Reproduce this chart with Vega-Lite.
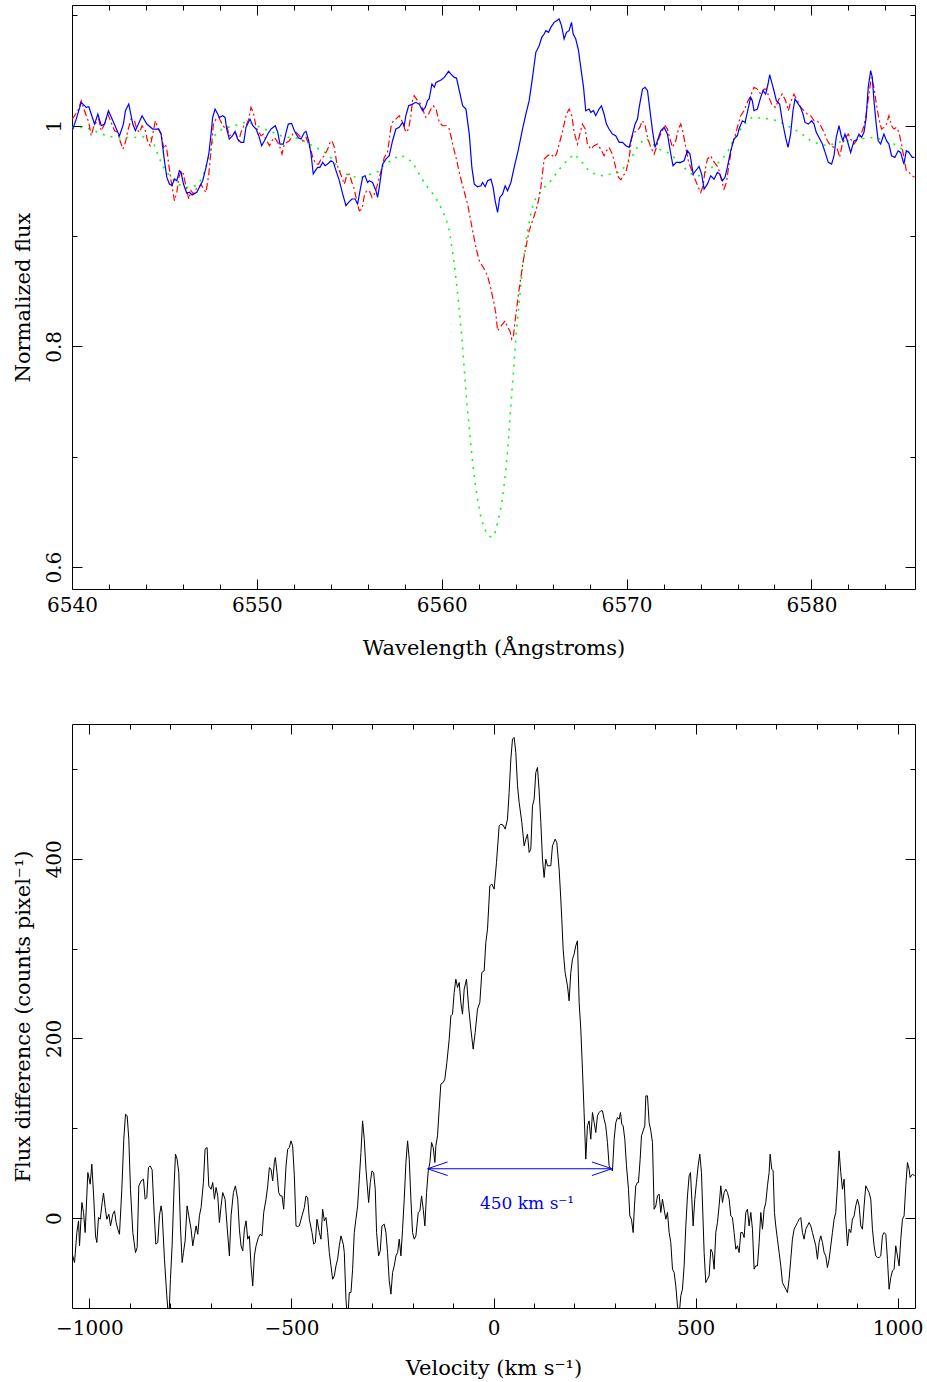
{
"$schema":"https://vega.github.io/schema/vega-lite/v6.json",
"padding":{"left":11,"top":4,"right":0,"bottom":3},
"spacing":64,
"config":{"view":{"stroke":"#000000","strokeWidth":1},"font":"DejaVu Serif","axis":{"domain":false,"grid":false,"tickColor":"#000000","tickWidth":1,"labelColor":"#000000","titleColor":"#000000","labelFont":"DejaVu Serif","titleFont":"DejaVu Serif","labelFontSize":20,"titleFontSize":21,"titleFontWeight":"normal","labelFlush":false,"labelOverlap":false}},
"datasets":{
"blue":[{"wl":6540.01,"flux":0.9955},{"wl":6540.23,"flux":1.006},{"wl":6540.5,"flux":1.0211},{"wl":6540.77,"flux":1.0166},{"wl":6540.91,"flux":1.0172},{"wl":6541.04,"flux":1.0106},{"wl":6541.22,"flux":1.0015},{"wl":6541.4,"flux":1.0106},{"wl":6541.58,"flux":1.0},{"wl":6541.76,"flux":1.0015},{"wl":6541.97,"flux":1.0136},{"wl":6542.21,"flux":1.0045},{"wl":6542.48,"flux":0.994},{"wl":6542.57,"flux":0.991},{"wl":6542.78,"flux":1.0015},{"wl":6542.89,"flux":1.0136},{"wl":6543.07,"flux":1.0196},{"wl":6543.29,"flux":1.0015},{"wl":6543.43,"flux":0.9955},{"wl":6543.79,"flux":1.009},{"wl":6544.05,"flux":1.0015},{"wl":6544.37,"flux":0.997},{"wl":6544.69,"flux":0.997},{"wl":6544.82,"flux":0.9925},{"wl":6544.91,"flux":0.9804},{"wl":6545.0,"flux":0.9683},{"wl":6545.13,"flux":0.9532},{"wl":6545.27,"flux":0.9472},{"wl":6545.41,"flux":0.9457},{"wl":6545.54,"flux":0.9517},{"wl":6545.67,"flux":0.9502},{"wl":6545.81,"flux":0.9593},{"wl":6545.9,"flux":0.9578},{"wl":6546.03,"flux":0.9472},{"wl":6546.21,"flux":0.9388},{"wl":6546.35,"flux":0.9397},{"wl":6546.5,"flux":0.9373},{"wl":6546.75,"flux":0.9397},{"wl":6546.89,"flux":0.9442},{"wl":6547.07,"flux":0.9502},{"wl":6547.25,"flux":0.9623},{"wl":6547.4,"flux":0.9744},{"wl":6547.52,"flux":0.9925},{"wl":6547.61,"flux":1.0075},{"wl":6547.74,"flux":1.0151},{"wl":6547.88,"flux":1.0106},{"wl":6547.97,"flux":1.0075},{"wl":6548.15,"flux":1.009},{"wl":6548.28,"flux":1.0075},{"wl":6548.37,"flux":0.997},{"wl":6548.51,"flux":0.9879},{"wl":6548.69,"flux":0.991},{"wl":6548.82,"flux":0.9949},{"wl":6548.96,"flux":0.9879},{"wl":6549.14,"flux":0.9849},{"wl":6549.29,"flux":0.9849},{"wl":6549.41,"flux":0.9985},{"wl":6549.63,"flux":1.006},{"wl":6549.78,"flux":1.0},{"wl":6549.96,"flux":0.997},{"wl":6550.1,"flux":0.991},{"wl":6550.26,"flux":0.9819},{"wl":6550.41,"flux":0.9864},{"wl":6550.59,"flux":0.9925},{"wl":6550.77,"flux":0.997},{"wl":6551.0,"flux":1.0},{"wl":6551.13,"flux":0.994},{"wl":6551.25,"flux":0.9834},{"wl":6551.43,"flux":0.9834},{"wl":6551.58,"flux":0.994},{"wl":6551.7,"flux":1.0015},{"wl":6551.88,"flux":1.0021},{"wl":6551.99,"flux":0.997},{"wl":6552.12,"flux":0.9925},{"wl":6552.26,"flux":0.9888},{"wl":6552.39,"flux":0.9879},{"wl":6552.57,"flux":0.994},{"wl":6552.66,"flux":0.9949},{"wl":6552.8,"flux":0.9864},{"wl":6552.93,"flux":0.9744},{"wl":6553.05,"flux":0.9563},{"wl":6553.16,"flux":0.9593},{"wl":6553.29,"flux":0.9623},{"wl":6553.41,"flux":0.9623},{"wl":6553.56,"flux":0.9668},{"wl":6553.69,"flux":0.9638},{"wl":6553.83,"flux":0.9653},{"wl":6554.01,"flux":0.9683},{"wl":6554.14,"flux":0.9668},{"wl":6554.28,"flux":0.9593},{"wl":6554.46,"flux":0.9502},{"wl":6554.64,"flux":0.9382},{"wl":6554.82,"flux":0.9276},{"wl":6554.96,"flux":0.9306},{"wl":6555.14,"flux":0.9336},{"wl":6555.31,"flux":0.9336},{"wl":6555.45,"flux":0.9291},{"wl":6555.58,"flux":0.9412},{"wl":6555.72,"flux":0.9532},{"wl":6555.85,"flux":0.9548},{"wl":6555.99,"flux":0.9487},{"wl":6556.08,"flux":0.9501},{"wl":6556.26,"flux":0.9486},{"wl":6556.44,"flux":0.9411},{"wl":6556.53,"flux":0.935},{"wl":6556.62,"flux":0.9441},{"wl":6556.8,"flux":0.9652},{"wl":6556.98,"flux":0.9698},{"wl":6557.16,"flux":0.9728},{"wl":6557.34,"flux":0.9864},{"wl":6557.52,"flux":0.997},{"wl":6557.7,"flux":0.9985},{"wl":6557.88,"flux":1.003},{"wl":6557.97,"flux":1.0},{"wl":6558.06,"flux":1.0091},{"wl":6558.21,"flux":1.0181},{"wl":6558.42,"flux":1.0196},{"wl":6558.6,"flux":1.0212},{"wl":6558.78,"flux":1.0196},{"wl":6558.96,"flux":1.0136},{"wl":6559.11,"flux":1.0166},{"wl":6559.23,"flux":1.0227},{"wl":6559.32,"flux":1.0242},{"wl":6559.47,"flux":1.0378},{"wl":6559.6,"flux":1.0348},{"wl":6559.69,"flux":1.0393},{"wl":6559.96,"flux":1.0414},{"wl":6560.14,"flux":1.0438},{"wl":6560.37,"flux":1.0493},{"wl":6560.5,"flux":1.0468},{"wl":6560.68,"flux":1.0438},{"wl":6560.8,"flux":1.0432},{"wl":6560.95,"flux":1.0317},{"wl":6561.13,"flux":1.0181},{"wl":6561.31,"flux":1.0151},{"wl":6561.49,"flux":0.9924},{"wl":6561.63,"flux":0.9622},{"wl":6561.76,"flux":0.9471},{"wl":6561.94,"flux":0.9447},{"wl":6562.12,"flux":0.9456},{"wl":6562.21,"flux":0.9486},{"wl":6562.35,"flux":0.9447},{"wl":6562.48,"flux":0.9501},{"wl":6562.66,"flux":0.9516},{"wl":6562.78,"flux":0.9441},{"wl":6562.89,"flux":0.932},{"wl":6563.02,"flux":0.9214},{"wl":6563.14,"flux":0.935},{"wl":6563.29,"flux":0.938},{"wl":6563.43,"flux":0.9456},{"wl":6563.56,"flux":0.9411},{"wl":6563.74,"flux":0.9486},{"wl":6563.92,"flux":0.9622},{"wl":6564.15,"flux":0.9788},{"wl":6564.37,"flux":0.997},{"wl":6564.55,"flux":1.0106},{"wl":6564.73,"flux":1.0227},{"wl":6564.91,"flux":1.0438},{"wl":6565.09,"flux":1.0665},{"wl":6565.27,"flux":1.0725},{"wl":6565.41,"flux":1.0801},{"wl":6565.54,"flux":1.0831},{"wl":6565.63,"flux":1.0861},{"wl":6565.78,"flux":1.0846},{"wl":6565.9,"flux":1.0891},{"wl":6566.08,"flux":1.0937},{"wl":6566.21,"flux":1.0952},{"wl":6566.35,"flux":1.0967},{"wl":6566.48,"flux":1.0907},{"wl":6566.62,"flux":1.0786},{"wl":6566.75,"flux":1.0846},{"wl":6566.89,"flux":1.0861},{"wl":6567.02,"flux":1.0937},{"wl":6567.11,"flux":1.0831},{"wl":6567.25,"flux":1.0786},{"wl":6567.4,"flux":1.068},{"wl":6567.52,"flux":1.0529},{"wl":6567.67,"flux":1.0348},{"wl":6567.79,"flux":1.0136},{"wl":6567.97,"flux":1.0151},{"wl":6568.06,"flux":1.0121},{"wl":6568.21,"flux":1.0136},{"wl":6568.33,"flux":1.0091},{"wl":6568.51,"flux":1.0151},{"wl":6568.64,"flux":1.0181},{"wl":6568.78,"flux":1.0106},{"wl":6568.91,"flux":1.0015},{"wl":6569.05,"flux":0.997},{"wl":6569.23,"flux":0.9924},{"wl":6569.41,"flux":0.9909},{"wl":6569.6,"flux":0.9849},{"wl":6569.78,"flux":0.9849},{"wl":6569.96,"flux":0.9819},{"wl":6570.14,"flux":0.9804},{"wl":6570.32,"flux":0.9924},{"wl":6570.46,"flux":1.0015},{"wl":6570.59,"flux":1.006},{"wl":6570.68,"flux":1.0166},{"wl":6570.86,"flux":1.0332},{"wl":6571.0,"flux":1.0348},{"wl":6571.13,"flux":1.0317},{"wl":6571.31,"flux":1.0076},{"wl":6571.4,"flux":0.9955},{"wl":6571.54,"flux":0.9804},{"wl":6571.67,"flux":0.9864},{"wl":6571.85,"flux":0.9955},{"wl":6572.03,"flux":0.9985},{"wl":6572.21,"flux":0.9924},{"wl":6572.39,"flux":0.9743},{"wl":6572.51,"flux":0.9637},{"wl":6572.69,"flux":0.9668},{"wl":6572.93,"flux":0.9668},{"wl":6573.11,"flux":0.9683},{"wl":6573.29,"flux":0.9773},{"wl":6573.43,"flux":0.9743},{"wl":6573.6,"flux":0.9562},{"wl":6573.74,"flux":0.9592},{"wl":6573.92,"flux":0.9631},{"wl":6574.06,"flux":0.9562},{"wl":6574.19,"flux":0.9426},{"wl":6574.37,"flux":0.9471},{"wl":6574.55,"flux":0.9547},{"wl":6574.73,"flux":0.9516},{"wl":6574.91,"flux":0.9577},{"wl":6575.04,"flux":0.9562},{"wl":6575.18,"flux":0.9501},{"wl":6575.32,"flux":0.9532},{"wl":6575.45,"flux":0.9622},{"wl":6575.63,"flux":0.9773},{"wl":6575.81,"flux":0.9879},{"wl":6575.99,"flux":0.9909},{"wl":6576.08,"flux":0.997},{"wl":6576.26,"flux":1.0045},{"wl":6576.41,"flux":1.003},{"wl":6576.53,"flux":1.0121},{"wl":6576.71,"flux":1.0257},{"wl":6576.8,"flux":1.0227},{"wl":6576.89,"flux":1.0136},{"wl":6577.07,"flux":1.0151},{"wl":6577.25,"flux":1.0257},{"wl":6577.38,"flux":1.0317},{"wl":6577.52,"flux":1.0287},{"wl":6577.65,"flux":1.0378},{"wl":6577.74,"flux":1.0462},{"wl":6577.85,"flux":1.0393},{"wl":6577.97,"flux":1.0317},{"wl":6578.1,"flux":1.0227},{"wl":6578.28,"flux":1.0196},{"wl":6578.42,"flux":1.0045},{"wl":6578.6,"flux":0.9894},{"wl":6578.73,"flux":0.9804},{"wl":6578.87,"flux":0.9924},{"wl":6579.0,"flux":1.0136},{"wl":6579.11,"flux":1.0242},{"wl":6579.23,"flux":1.0212},{"wl":6579.41,"flux":1.0166},{"wl":6579.54,"flux":1.0106},{"wl":6579.65,"flux":1.003},{"wl":6579.83,"flux":1.0015},{"wl":6580.01,"flux":1.0045},{"wl":6580.14,"flux":1.0015},{"wl":6580.26,"flux":0.994},{"wl":6580.41,"flux":0.9894},{"wl":6580.59,"flux":0.9834},{"wl":6580.77,"flux":0.9743},{"wl":6580.91,"flux":0.9668},{"wl":6581.09,"flux":0.9652},{"wl":6581.22,"flux":0.9728},{"wl":6581.34,"flux":0.9894},{"wl":6581.49,"flux":1.0},{"wl":6581.61,"flux":0.9909},{"wl":6581.7,"flux":0.9864},{"wl":6581.81,"flux":0.9924},{"wl":6581.94,"flux":0.9864},{"wl":6582.12,"flux":0.9758},{"wl":6582.3,"flux":0.9864},{"wl":6582.42,"flux":0.9864},{"wl":6582.57,"flux":0.9924},{"wl":6582.71,"flux":0.9894},{"wl":6582.84,"flux":0.994},{"wl":6582.96,"flux":1.0076},{"wl":6583.07,"flux":1.0348},{"wl":6583.2,"flux":1.0499},{"wl":6583.29,"flux":1.0438},{"wl":6583.38,"flux":1.0227},{"wl":6583.5,"flux":1.0015},{"wl":6583.61,"flux":0.9864},{"wl":6583.74,"flux":0.9834},{"wl":6583.92,"flux":0.9924},{"wl":6584.06,"flux":0.9864},{"wl":6584.19,"flux":0.9834},{"wl":6584.33,"flux":0.9728},{"wl":6584.51,"flux":0.9713},{"wl":6584.69,"flux":0.9773},{"wl":6584.82,"flux":0.9758},{"wl":6585.0,"flux":0.9652},{"wl":6585.13,"flux":0.9773},{"wl":6585.27,"flux":0.9758},{"wl":6585.45,"flux":0.9713},{"wl":6585.58,"flux":0.9713}],
"red":[{"wl":6540.01,"flux":1.006},{"wl":6540.14,"flux":1.0091},{"wl":6540.32,"flux":1.0136},{"wl":6540.5,"flux":1.0227},{"wl":6540.62,"flux":1.0166},{"wl":6540.77,"flux":1.0091},{"wl":6540.91,"flux":1.003},{"wl":6541.04,"flux":0.9909},{"wl":6541.16,"flux":0.9985},{"wl":6541.31,"flux":1.003},{"wl":6541.45,"flux":1.006},{"wl":6541.58,"flux":0.9955},{"wl":6541.76,"flux":1.0015},{"wl":6541.94,"flux":1.0106},{"wl":6542.12,"flux":1.003},{"wl":6542.3,"flux":0.9955},{"wl":6542.48,"flux":0.994},{"wl":6542.6,"flux":0.9864},{"wl":6542.75,"flux":0.9788},{"wl":6542.89,"flux":0.9849},{"wl":6543.02,"flux":0.9955},{"wl":6543.2,"flux":1.006},{"wl":6543.38,"flux":1.0045},{"wl":6543.5,"flux":0.997},{"wl":6543.65,"flux":0.994},{"wl":6543.79,"flux":1.0},{"wl":6543.97,"flux":0.9955},{"wl":6544.1,"flux":0.9849},{"wl":6544.23,"flux":0.9819},{"wl":6544.37,"flux":0.9924},{"wl":6544.51,"flux":1.0045},{"wl":6544.64,"flux":0.9985},{"wl":6544.82,"flux":0.9924},{"wl":6544.95,"flux":0.9804},{"wl":6545.05,"flux":0.9834},{"wl":6545.13,"flux":0.9788},{"wl":6545.23,"flux":0.9652},{"wl":6545.36,"flux":0.9501},{"wl":6545.45,"flux":0.9411},{"wl":6545.54,"flux":0.932},{"wl":6545.67,"flux":0.9396},{"wl":6545.78,"flux":0.9532},{"wl":6545.9,"flux":0.9592},{"wl":6546.03,"flux":0.9562},{"wl":6546.17,"flux":0.9441},{"wl":6546.32,"flux":0.9335},{"wl":6546.44,"flux":0.9411},{"wl":6546.57,"flux":0.938},{"wl":6546.71,"flux":0.9426},{"wl":6546.86,"flux":0.9441},{"wl":6546.98,"flux":0.9471},{"wl":6547.11,"flux":0.9426},{"wl":6547.25,"flux":0.9396},{"wl":6547.4,"flux":0.9562},{"wl":6547.52,"flux":0.9773},{"wl":6547.65,"flux":1.0015},{"wl":6547.79,"flux":1.006},{"wl":6547.94,"flux":1.0076},{"wl":6548.12,"flux":1.0015},{"wl":6548.24,"flux":0.9985},{"wl":6548.37,"flux":1.0},{"wl":6548.51,"flux":0.9909},{"wl":6548.66,"flux":0.9924},{"wl":6548.84,"flux":0.994},{"wl":6549.02,"flux":0.9864},{"wl":6549.14,"flux":0.994},{"wl":6549.29,"flux":1.0},{"wl":6549.41,"flux":1.0},{"wl":6549.56,"flux":1.006},{"wl":6549.68,"flux":1.0166},{"wl":6549.81,"flux":1.0121},{"wl":6549.96,"flux":0.9985},{"wl":6550.1,"flux":0.994},{"wl":6550.23,"flux":0.9909},{"wl":6550.35,"flux":0.9924},{"wl":6550.53,"flux":0.9864},{"wl":6550.68,"flux":0.9819},{"wl":6550.82,"flux":0.9864},{"wl":6550.95,"flux":0.9894},{"wl":6551.13,"flux":0.9849},{"wl":6551.25,"flux":0.9804},{"wl":6551.36,"flux":0.9743},{"wl":6551.49,"flux":0.9834},{"wl":6551.61,"flux":0.9849},{"wl":6551.76,"flux":0.9864},{"wl":6551.94,"flux":0.9924},{"wl":6552.12,"flux":0.994},{"wl":6552.3,"flux":0.9909},{"wl":6552.48,"flux":0.9864},{"wl":6552.66,"flux":0.9894},{"wl":6552.8,"flux":0.9834},{"wl":6552.93,"flux":0.9773},{"wl":6553.05,"flux":0.9698},{"wl":6553.2,"flux":0.9652},{"wl":6553.34,"flux":0.9652},{"wl":6553.47,"flux":0.9698},{"wl":6553.65,"flux":0.9728},{"wl":6553.83,"flux":0.9788},{"wl":6553.96,"flux":0.9849},{"wl":6554.06,"flux":0.9864},{"wl":6554.19,"flux":0.9804},{"wl":6554.33,"flux":0.9652},{"wl":6554.46,"flux":0.9592},{"wl":6554.6,"flux":0.9532},{"wl":6554.73,"flux":0.9471},{"wl":6554.86,"flux":0.9547},{"wl":6555.0,"flux":0.9562},{"wl":6555.14,"flux":0.9486},{"wl":6555.27,"flux":0.9426},{"wl":6555.4,"flux":0.932},{"wl":6555.54,"flux":0.9229},{"wl":6555.69,"flux":0.9244},{"wl":6555.81,"flux":0.9365},{"wl":6555.94,"flux":0.9412},{"wl":6556.08,"flux":0.9411},{"wl":6556.23,"flux":0.935},{"wl":6556.35,"flux":0.938},{"wl":6556.48,"flux":0.9441},{"wl":6556.62,"flux":0.9532},{"wl":6556.77,"flux":0.9622},{"wl":6556.89,"flux":0.9713},{"wl":6557.07,"flux":0.9758},{"wl":6557.25,"flux":0.9985},{"wl":6557.38,"flux":1.0045},{"wl":6557.52,"flux":1.006},{"wl":6557.7,"flux":1.0091},{"wl":6557.88,"flux":1.003},{"wl":6558.06,"flux":0.994},{"wl":6558.21,"flux":0.997},{"wl":6558.33,"flux":1.0091},{"wl":6558.42,"flux":1.0227},{"wl":6558.51,"flux":1.0272},{"wl":6558.69,"flux":1.0227},{"wl":6558.87,"flux":1.0196},{"wl":6559.0,"flux":1.0136},{"wl":6559.14,"flux":1.0076},{"wl":6559.29,"flux":1.0106},{"wl":6559.41,"flux":1.0151},{"wl":6559.54,"flux":1.0181},{"wl":6559.69,"flux":1.0151},{"wl":6559.87,"flux":1.003},{"wl":6560.05,"flux":1.0},{"wl":6560.26,"flux":1.0},{"wl":6560.41,"flux":0.997},{"wl":6560.59,"flux":0.9834},{"wl":6560.77,"flux":0.9713},{"wl":6560.95,"flux":0.9577},{"wl":6561.13,"flux":0.9456},{"wl":6561.4,"flux":0.929},{"wl":6561.67,"flux":0.9048},{"wl":6561.85,"flux":0.8897},{"wl":6562.03,"flux":0.8776},{"wl":6562.3,"flux":0.8701},{"wl":6562.48,"flux":0.864},{"wl":6562.66,"flux":0.8519},{"wl":6562.84,"flux":0.8383},{"wl":6562.93,"flux":0.8293},{"wl":6563.02,"flux":0.8141},{"wl":6563.14,"flux":0.8172},{"wl":6563.29,"flux":0.8202},{"wl":6563.43,"flux":0.8232},{"wl":6563.56,"flux":0.8172},{"wl":6563.69,"flux":0.8141},{"wl":6563.79,"flux":0.8066},{"wl":6563.88,"flux":0.8096},{"wl":6563.97,"flux":0.8232},{"wl":6564.06,"flux":0.8353},{"wl":6564.15,"flux":0.8474},{"wl":6564.28,"flux":0.8625},{"wl":6564.41,"flux":0.8776},{"wl":6564.55,"flux":0.8897},{"wl":6564.73,"flux":0.9048},{"wl":6564.91,"flux":0.9139},{"wl":6565.09,"flux":0.9229},{"wl":6565.23,"flux":0.932},{"wl":6565.36,"flux":0.9441},{"wl":6565.54,"flux":0.9698},{"wl":6565.72,"flux":0.9728},{"wl":6565.9,"flux":0.9743},{"wl":6566.08,"flux":0.9713},{"wl":6566.21,"flux":0.9743},{"wl":6566.35,"flux":0.9834},{"wl":6566.5,"flux":0.9924},{"wl":6566.62,"flux":1.0015},{"wl":6566.75,"flux":1.0106},{"wl":6566.89,"flux":1.0151},{"wl":6567.04,"flux":1.0091},{"wl":6567.16,"flux":0.994},{"wl":6567.34,"flux":0.9834},{"wl":6567.47,"flux":0.9924},{"wl":6567.61,"flux":1.0015},{"wl":6567.76,"flux":0.997},{"wl":6567.88,"flux":0.9834},{"wl":6568.06,"flux":0.9788},{"wl":6568.24,"flux":0.9819},{"wl":6568.42,"flux":0.9834},{"wl":6568.6,"flux":0.9788},{"wl":6568.78,"flux":0.9728},{"wl":6568.91,"flux":0.9773},{"wl":6569.05,"flux":0.9804},{"wl":6569.23,"flux":0.9743},{"wl":6569.41,"flux":0.9622},{"wl":6569.56,"flux":0.9532},{"wl":6569.69,"flux":0.951},{"wl":6569.81,"flux":0.9547},{"wl":6569.96,"flux":0.9577},{"wl":6570.14,"flux":0.9713},{"wl":6570.28,"flux":0.9894},{"wl":6570.41,"flux":0.994},{"wl":6570.59,"flux":0.9955},{"wl":6570.71,"flux":0.9985},{"wl":6570.86,"flux":1.0045},{"wl":6571.0,"flux":1.0},{"wl":6571.13,"flux":0.9894},{"wl":6571.31,"flux":0.9804},{"wl":6571.49,"flux":0.9743},{"wl":6571.61,"flux":0.9804},{"wl":6571.76,"flux":0.9894},{"wl":6571.94,"flux":0.9955},{"wl":6572.08,"flux":1.0},{"wl":6572.21,"flux":0.997},{"wl":6572.3,"flux":0.9909},{"wl":6572.48,"flux":0.9804},{"wl":6572.66,"flux":0.9864},{"wl":6572.8,"flux":0.997},{"wl":6572.93,"flux":1.0015},{"wl":6573.05,"flux":0.994},{"wl":6573.2,"flux":0.9804},{"wl":6573.34,"flux":0.9683},{"wl":6573.52,"flux":0.9592},{"wl":6573.7,"flux":0.9516},{"wl":6573.88,"flux":0.9441},{"wl":6574.01,"flux":0.9396},{"wl":6574.14,"flux":0.9456},{"wl":6574.24,"flux":0.9592},{"wl":6574.37,"flux":0.9698},{"wl":6574.55,"flux":0.9728},{"wl":6574.68,"flux":0.9683},{"wl":6574.82,"flux":0.9652},{"wl":6574.96,"flux":0.9622},{"wl":6575.09,"flux":0.9532},{"wl":6575.27,"flux":0.9426},{"wl":6575.4,"flux":0.9486},{"wl":6575.54,"flux":0.9652},{"wl":6575.72,"flux":0.9834},{"wl":6575.87,"flux":0.9909},{"wl":6575.99,"flux":0.9985},{"wl":6576.17,"flux":1.0091},{"wl":6576.35,"flux":1.0136},{"wl":6576.53,"flux":1.0212},{"wl":6576.71,"flux":1.0272},{"wl":6576.89,"flux":1.0348},{"wl":6577.07,"flux":1.0332},{"wl":6577.25,"flux":1.0287},{"wl":6577.43,"flux":1.0332},{"wl":6577.56,"flux":1.0332},{"wl":6577.7,"flux":1.0257},{"wl":6577.88,"flux":1.0181},{"wl":6578.06,"flux":1.0166},{"wl":6578.24,"flux":1.0242},{"wl":6578.42,"flux":1.0287},{"wl":6578.6,"flux":1.0227},{"wl":6578.75,"flux":1.0136},{"wl":6578.87,"flux":1.0212},{"wl":6579.05,"flux":1.0287},{"wl":6579.24,"flux":1.0227},{"wl":6579.42,"flux":1.0166},{"wl":6579.6,"flux":1.0136},{"wl":6579.78,"flux":1.0106},{"wl":6579.96,"flux":1.0091},{"wl":6580.14,"flux":1.0045},{"wl":6580.32,"flux":1.0045},{"wl":6580.5,"flux":1.0},{"wl":6580.68,"flux":0.994},{"wl":6580.86,"flux":0.9864},{"wl":6581.04,"flux":0.9819},{"wl":6581.22,"flux":0.9804},{"wl":6581.4,"flux":0.9788},{"wl":6581.52,"flux":0.9713},{"wl":6581.67,"flux":0.9834},{"wl":6581.85,"flux":0.9894},{"wl":6581.99,"flux":0.9924},{"wl":6582.12,"flux":0.9879},{"wl":6582.3,"flux":0.9834},{"wl":6582.48,"flux":0.9879},{"wl":6582.66,"flux":0.9909},{"wl":6582.84,"flux":1.0},{"wl":6582.96,"flux":1.0106},{"wl":6583.11,"flux":1.0287},{"wl":6583.24,"flux":1.0438},{"wl":6583.38,"flux":1.0348},{"wl":6583.51,"flux":1.0196},{"wl":6583.65,"flux":1.006},{"wl":6583.79,"flux":0.997},{"wl":6583.92,"flux":0.9985},{"wl":6584.06,"flux":1.0015},{"wl":6584.19,"flux":1.0091},{"wl":6584.33,"flux":1.0},{"wl":6584.46,"flux":0.997},{"wl":6584.6,"flux":0.9985},{"wl":6584.73,"flux":0.994},{"wl":6584.87,"flux":0.9834},{"wl":6585.0,"flux":0.9713},{"wl":6585.13,"flux":0.9592},{"wl":6585.27,"flux":0.9577},{"wl":6585.45,"flux":0.9547},{"wl":6585.58,"flux":0.9532}],
"green":[{"wl":6540.01,"flux":0.9985},{"wl":6540.5,"flux":0.9985},{"wl":6541.04,"flux":0.997},{"wl":6541.49,"flux":0.993},{"wl":6541.94,"flux":0.9909},{"wl":6542.39,"flux":0.9888},{"wl":6542.93,"flux":0.9894},{"wl":6543.38,"flux":0.9894},{"wl":6543.83,"flux":0.99},{"wl":6544.28,"flux":0.9888},{"wl":6544.46,"flux":0.9819},{"wl":6544.64,"flux":0.9743},{"wl":6544.82,"flux":0.9668},{"wl":6545.05,"flux":0.9592},{"wl":6545.36,"flux":0.9532},{"wl":6545.72,"flux":0.9471},{"wl":6546.17,"flux":0.9441},{"wl":6546.53,"flux":0.9441},{"wl":6546.89,"flux":0.9486},{"wl":6547.16,"flux":0.9577},{"wl":6547.43,"flux":0.9743},{"wl":6547.7,"flux":0.9909},{"wl":6548.12,"flux":0.997},{"wl":6548.55,"flux":0.9991},{"wl":6549.05,"flux":1.0015},{"wl":6549.5,"flux":1.0039},{"wl":6549.96,"flux":1.0},{"wl":6550.41,"flux":0.997},{"wl":6550.86,"flux":0.994},{"wl":6551.31,"flux":0.9909},{"wl":6551.76,"flux":0.9894},{"wl":6552.21,"flux":0.9888},{"wl":6552.66,"flux":0.9849},{"wl":6553.11,"flux":0.981},{"wl":6553.56,"flux":0.9773},{"wl":6553.92,"flux":0.9728},{"wl":6554.19,"flux":0.9668},{"wl":6554.46,"flux":0.9592},{"wl":6554.82,"flux":0.9562},{"wl":6555.18,"flux":0.9538},{"wl":6555.63,"flux":0.9532},{"wl":6556.08,"flux":0.9556},{"wl":6556.59,"flux":0.9586},{"wl":6556.89,"flux":0.9652},{"wl":6557.34,"flux":0.9689},{"wl":6557.7,"flux":0.9734},{"wl":6558.06,"flux":0.9713},{"wl":6558.42,"flux":0.9668},{"wl":6558.78,"flux":0.9562},{"wl":6559.05,"flux":0.9486},{"wl":6559.32,"flux":0.9426},{"wl":6559.6,"flux":0.9365},{"wl":6559.87,"flux":0.929},{"wl":6560.08,"flux":0.9214},{"wl":6560.26,"flux":0.9139},{"wl":6560.41,"flux":0.9048},{"wl":6560.55,"flux":0.8897},{"wl":6560.68,"flux":0.8746},{"wl":6560.8,"flux":0.8565},{"wl":6560.91,"flux":0.8398},{"wl":6561.0,"flux":0.8232},{"wl":6561.09,"flux":0.8081},{"wl":6561.16,"flux":0.7915},{"wl":6561.24,"flux":0.7749},{"wl":6561.31,"flux":0.7582},{"wl":6561.4,"flux":0.7416},{"wl":6561.49,"flux":0.7265},{"wl":6561.58,"flux":0.7099},{"wl":6561.67,"flux":0.6948},{"wl":6561.79,"flux":0.6782},{"wl":6561.94,"flux":0.6615},{"wl":6562.12,"flux":0.6449},{"wl":6562.3,"flux":0.6359},{"wl":6562.48,"flux":0.6289},{"wl":6562.66,"flux":0.6274},{"wl":6562.84,"flux":0.6283},{"wl":6563.07,"flux":0.6434},{"wl":6563.25,"flux":0.6585},{"wl":6563.38,"flux":0.6751},{"wl":6563.49,"flux":0.6918},{"wl":6563.58,"flux":0.7084},{"wl":6563.65,"flux":0.725},{"wl":6563.72,"flux":0.7416},{"wl":6563.79,"flux":0.7582},{"wl":6563.87,"flux":0.7749},{"wl":6563.94,"flux":0.7915},{"wl":6564.01,"flux":0.8081},{"wl":6564.1,"flux":0.8232},{"wl":6564.19,"flux":0.8398},{"wl":6564.28,"flux":0.8565},{"wl":6564.37,"flux":0.8716},{"wl":6564.5,"flux":0.8882},{"wl":6564.64,"flux":0.9048},{"wl":6564.82,"flux":0.9199},{"wl":6565.0,"flux":0.932},{"wl":6565.18,"flux":0.9365},{"wl":6565.45,"flux":0.9426},{"wl":6565.9,"flux":0.9501},{"wl":6566.17,"flux":0.9562},{"wl":6566.44,"flux":0.9622},{"wl":6566.8,"flux":0.9689},{"wl":6567.16,"flux":0.9743},{"wl":6567.52,"flux":0.9683},{"wl":6567.88,"flux":0.9607},{"wl":6568.24,"flux":0.9568},{"wl":6568.69,"flux":0.9547},{"wl":6569.14,"flux":0.9562},{"wl":6569.6,"flux":0.9577},{"wl":6569.96,"flux":0.9637},{"wl":6570.32,"flux":0.9728},{"wl":6570.68,"flux":0.9834},{"wl":6571.04,"flux":0.9888},{"wl":6571.4,"flux":0.9834},{"wl":6571.76,"flux":0.9788},{"wl":6572.21,"flux":0.9758},{"wl":6572.57,"flux":0.9713},{"wl":6572.93,"flux":0.9652},{"wl":6573.29,"flux":0.9592},{"wl":6573.65,"flux":0.9547},{"wl":6574.01,"flux":0.9547},{"wl":6574.37,"flux":0.9592},{"wl":6574.73,"flux":0.9637},{"wl":6575.09,"flux":0.9683},{"wl":6575.45,"flux":0.9758},{"wl":6575.81,"flux":0.9879},{"wl":6576.17,"flux":0.997},{"wl":6576.53,"flux":1.0045},{"wl":6576.8,"flux":1.0076},{"wl":6577.25,"flux":1.007},{"wl":6577.79,"flux":1.006},{"wl":6578.24,"flux":1.0039},{"wl":6578.69,"flux":1.0},{"wl":6579.05,"flux":0.997},{"wl":6579.5,"flux":0.9924},{"wl":6579.96,"flux":0.9864},{"wl":6580.41,"flux":0.9834},{"wl":6580.86,"flux":0.9819},{"wl":6581.31,"flux":0.984},{"wl":6581.76,"flux":0.9864},{"wl":6582.21,"flux":0.9864},{"wl":6582.66,"flux":0.9879},{"wl":6583.11,"flux":0.9894},{"wl":6583.56,"flux":0.9888},{"wl":6584.01,"flux":0.9864},{"wl":6584.46,"flux":0.9834},{"wl":6584.91,"flux":0.9788},{"wl":6585.58,"flux":0.9743}],
"diff":[{"velocity":-1043.3,"diff":-38.3},{"velocity":-1036.7,"diff":-49.4},{"velocity":-1031.0,"diff":-16.0},{"velocity":-1026.8,"diff":-3.0},{"velocity":-1024.4,"diff":-30.8},{"velocity":-1018.6,"diff":17.4},{"velocity":-1014.5,"diff":6.3},{"velocity":-1010.4,"diff":-16.0},{"velocity":-1003.8,"diff":50.8},{"velocity":-998.0,"diff":37.8},{"velocity":-993.9,"diff":60.0},{"velocity":-988.9,"diff":20.1},{"velocity":-984.8,"diff":-19.7},{"velocity":-981.5,"diff":-27.1},{"velocity":-977.4,"diff":0.7},{"velocity":-973.3,"diff":-1.2},{"velocity":-968.3,"diff":17.4},{"velocity":-965.0,"diff":27.8},{"velocity":-960.9,"diff":11.8},{"velocity":-956.8,"diff":-1.2},{"velocity":-951.8,"diff":4.4},{"velocity":-947.7,"diff":-8.6},{"velocity":-941.9,"diff":4.4},{"velocity":-937.8,"diff":8.1},{"velocity":-933.7,"diff":-4.9},{"velocity":-929.6,"diff":-12.3},{"velocity":-925.5,"diff":-17.9},{"velocity":-919.7,"diff":32.2},{"velocity":-914.8,"diff":87.9},{"velocity":-910.6,"diff":115.7},{"velocity":-906.5,"diff":113.9},{"velocity":-902.4,"diff":87.9},{"velocity":-898.3,"diff":32.2},{"velocity":-892.5,"diff":-16.0},{"velocity":-885.9,"diff":-38.3},{"velocity":-881.8,"diff":-32.7},{"velocity":-877.7,"diff":35.9},{"velocity":-871.9,"diff":41.5},{"velocity":-866.1,"diff":43.4},{"velocity":-862.0,"diff":21.1},{"velocity":-857.9,"diff":23.0},{"velocity":-853.8,"diff":56.3},{"velocity":-849.6,"diff":58.2},{"velocity":-844.7,"diff":53.7},{"velocity":-840.6,"diff":13.7},{"velocity":-835.6,"diff":-29.0},{"velocity":-830.7,"diff":-27.1},{"velocity":-826.6,"diff":2.6},{"velocity":-822.5,"diff":13.7},{"velocity":-820.0,"diff":6.3},{"velocity":-814.2,"diff":-45.7},{"velocity":-808.4,"diff":-86.5},{"velocity":-803.5,"diff":-115},{"velocity":-799.4,"diff":-68.0},{"velocity":-795.3,"diff":-30.8},{"velocity":-790.3,"diff":35.9},{"velocity":-787.0,"diff":71.2},{"velocity":-782.9,"diff":65.6},{"velocity":-778.8,"diff":50.8},{"velocity":-774.7,"diff":-8.6},{"velocity":-770.5,"diff":-49.4},{"velocity":-767.2,"diff":-38.3},{"velocity":-763.1,"diff":-25.3},{"velocity":-758.2,"diff":13.7},{"velocity":-754.1,"diff":2.6},{"velocity":-748.3,"diff":-12.3},{"velocity":-744.2,"diff":-30.8},{"velocity":-740.1,"diff":-19.7},{"velocity":-735.9,"diff":-8.6},{"velocity":-731.8,"diff":-17.9},{"velocity":-727.7,"diff":2.6},{"velocity":-723.6,"diff":11.8},{"velocity":-717.8,"diff":39.7},{"velocity":-713.7,"diff":76.8},{"velocity":-708.7,"diff":78.6},{"velocity":-704.6,"diff":35.9},{"velocity":-698.8,"diff":32.2},{"velocity":-694.7,"diff":39.7},{"velocity":-690.6,"diff":21.1},{"velocity":-686.5,"diff":34.1},{"velocity":-682.3,"diff":24.8},{"velocity":-678.2,"diff":-4.9},{"velocity":-674.1,"diff":13.7},{"velocity":-670.0,"diff":28.5},{"velocity":-664.2,"diff":21.1},{"velocity":-659.3,"diff":-8.6},{"velocity":-653.5,"diff":-42.0},{"velocity":-649.4,"diff":2.6},{"velocity":-643.6,"diff":28.5},{"velocity":-638.7,"diff":35.9},{"velocity":-632.9,"diff":21.1},{"velocity":-628.8,"diff":-12.3},{"velocity":-624.7,"diff":-30.8},{"velocity":-620.5,"diff":-36.4},{"velocity":-616.4,"diff":-12.3},{"velocity":-612.3,"diff":-3.0},{"velocity":-608.2,"diff":-23.4},{"velocity":-604.1,"diff":-19.7},{"velocity":-600.0,"diff":-53.1},{"velocity":-595.8,"diff":-75.4},{"velocity":-591.7,"diff":-42.0},{"velocity":-587.6,"diff":-30.8},{"velocity":-581.8,"diff":-21.6},{"velocity":-577.7,"diff":-17.9},{"velocity":-572.8,"diff":-19.7},{"velocity":-568.6,"diff":6.3},{"velocity":-562.9,"diff":21.1},{"velocity":-558.7,"diff":35.9},{"velocity":-554.6,"diff":56.3},{"velocity":-550.5,"diff":54.5},{"velocity":-546.4,"diff":41.5},{"velocity":-542.3,"diff":61.9},{"velocity":-539.8,"diff":67.5},{"velocity":-535.7,"diff":50.8},{"velocity":-531.5,"diff":28.5},{"velocity":-527.4,"diff":24.8},{"velocity":-523.3,"diff":24.8},{"velocity":-519.2,"diff":10.0},{"velocity":-513.4,"diff":58.2},{"velocity":-509.3,"diff":76.8},{"velocity":-505.2,"diff":78.6},{"velocity":-501.1,"diff":86.0},{"velocity":-497.0,"diff":80.5},{"velocity":-492.8,"diff":47.1},{"velocity":-488.7,"diff":-8.6},{"velocity":-484.6,"diff":-9.3},{"velocity":-480.5,"diff":-8.6},{"velocity":-473.9,"diff":2.6},{"velocity":-468.1,"diff":11.8},{"velocity":-464.0,"diff":24.8},{"velocity":-459.9,"diff":23.0},{"velocity":-455.7,"diff":-1.2},{"velocity":-449.1,"diff":-16.0},{"velocity":-445.0,"diff":-29.0},{"velocity":-440.9,"diff":-27.1},{"velocity":-436.8,"diff":-1.2},{"velocity":-431.0,"diff":-16.0},{"velocity":-426.9,"diff":-23.4},{"velocity":-422.8,"diff":10.0},{"velocity":-418.6,"diff":-3.0},{"velocity":-414.5,"diff":0.7},{"velocity":-410.4,"diff":-16.0},{"velocity":-406.3,"diff":-38.3},{"velocity":-402.2,"diff":-53.1},{"velocity":-398.0,"diff":-68.0},{"velocity":-393.9,"diff":-64.2},{"velocity":-389.8,"diff":-53.1},{"velocity":-385.7,"diff":-45.7},{"velocity":-381.6,"diff":-30.8},{"velocity":-377.4,"diff":-19.7},{"velocity":-371.7,"diff":-29.0},{"velocity":-369.2,"diff":-38.3},{"velocity":-365.1,"diff":-90.2},{"velocity":-361.0,"diff":-115},{"velocity":-356.8,"diff":-82.8},{"velocity":-352.7,"diff":-82.8},{"velocity":-348.6,"diff":-56.8},{"velocity":-344.5,"diff":-16.0},{"velocity":-340.4,"diff":-1.2},{"velocity":-336.2,"diff":13.7},{"velocity":-332.1,"diff":43.4},{"velocity":-328.0,"diff":73.0},{"velocity":-323.9,"diff":108.3},{"velocity":-319.8,"diff":87.9},{"velocity":-315.6,"diff":54.5},{"velocity":-309.0,"diff":17.4},{"velocity":-304.9,"diff":39.7},{"velocity":-300.8,"diff":52.6},{"velocity":-296.7,"diff":50.8},{"velocity":-292.6,"diff":32.2},{"velocity":-289.3,"diff":-16.0},{"velocity":-284.3,"diff":-42.0},{"velocity":-280.2,"diff":-36.4},{"velocity":-276.1,"diff":-8.6},{"velocity":-270.3,"diff":-6.7},{"velocity":-266.2,"diff":-16.0},{"velocity":-262.1,"diff":-38.3},{"velocity":-258.0,"diff":-69.8},{"velocity":-253.8,"diff":-84.6},{"velocity":-249.7,"diff":-60.5},{"velocity":-245.6,"diff":-53.1},{"velocity":-241.5,"diff":-42.0},{"velocity":-237.3,"diff":-38.3},{"velocity":-233.2,"diff":-23.4},{"velocity":-229.1,"diff":-42.0},{"velocity":-225.0,"diff":-12.3},{"velocity":-220.9,"diff":21.1},{"velocity":-216.7,"diff":61.9},{"velocity":-212.6,"diff":86.0},{"velocity":-208.5,"diff":65.6},{"velocity":-204.4,"diff":21.1},{"velocity":-200.3,"diff":-16.0},{"velocity":-196.1,"diff":-23.4},{"velocity":-192.0,"diff":-19.7},{"velocity":-186.2,"diff":6.3},{"velocity":-182.1,"diff":8.1},{"velocity":-178.0,"diff":24.8},{"velocity":-173.9,"diff":10.0},{"velocity":-169.8,"diff":-8.6},{"velocity":-165.6,"diff":28.5},{"velocity":-161.5,"diff":52.6},{"velocity":-157.4,"diff":61.9},{"velocity":-153.3,"diff":84.2},{"velocity":-149.2,"diff":78.6},{"velocity":-145.0,"diff":61.9},{"velocity":-142.6,"diff":80.5},{"velocity":-138.5,"diff":91.6},{"velocity":-134.4,"diff":121.3},{"velocity":-130.3,"diff":149.2},{"velocity":-124.5,"diff":151.0},{"velocity":-120.4,"diff":154.7},{"velocity":-115.4,"diff":173.3},{"velocity":-109.6,"diff":199.2},{"velocity":-105.5,"diff":225.2},{"velocity":-101.4,"diff":227.1},{"velocity":-97.3,"diff":251.2},{"velocity":-93.2,"diff":266.0},{"velocity":-89.0,"diff":256.7},{"velocity":-84.9,"diff":262.3},{"velocity":-80.8,"diff":240.1},{"velocity":-76.7,"diff":227.1},{"velocity":-72.5,"diff":254.9},{"velocity":-66.8,"diff":266.0},{"velocity":-61.8,"diff":236.3},{"velocity":-56.1,"diff":210.4},{"velocity":-50.3,"diff":188.1},{"velocity":-45.3,"diff":206.7},{"velocity":-39.6,"diff":232.6},{"velocity":-33.8,"diff":240.1},{"velocity":-28.9,"diff":273.4},{"velocity":-23.1,"diff":275.3},{"velocity":-19.0,"diff":306.8},{"velocity":-14.8,"diff":321.7},{"velocity":-9.1,"diff":369.9},{"velocity":-4.1,"diff":371.8},{"velocity":1.6,"diff":366.2},{"velocity":7.4,"diff":395.9},{"velocity":14.0,"diff":436.7},{"velocity":18.1,"diff":438.5},{"velocity":23.9,"diff":437.4},{"velocity":28.9,"diff":433.0},{"velocity":34.6,"diff":444.1},{"velocity":38.7,"diff":473.8},{"velocity":42.9,"diff":510.9},{"velocity":47.0,"diff":533.1},{"velocity":51.1,"diff":535.0},{"velocity":55.2,"diff":518.3},{"velocity":59.4,"diff":481.2},{"velocity":63.5,"diff":462.6},{"velocity":70.1,"diff":440.4},{"velocity":75.8,"diff":414.4},{"velocity":80.0,"diff":421.8},{"velocity":84.1,"diff":427.4},{"velocity":88.2,"diff":407.0},{"velocity":92.3,"diff":410.7},{"velocity":96.5,"diff":458.9},{"velocity":100.6,"diff":466.4},{"velocity":104.7,"diff":496.0},{"velocity":108.8,"diff":501.6},{"velocity":112.9,"diff":475.6},{"velocity":117.1,"diff":440.4},{"velocity":121.2,"diff":399.6},{"velocity":125.3,"diff":379.2},{"velocity":129.4,"diff":399.6},{"velocity":133.6,"diff":392.2},{"velocity":141.8,"diff":392.2},{"velocity":145.9,"diff":414.4},{"velocity":152.5,"diff":421.8},{"velocity":156.6,"diff":418.1},{"velocity":162.4,"diff":388.5},{"velocity":166.5,"diff":355.1},{"velocity":169.0,"diff":332.8},{"velocity":172.3,"diff":299.4},{"velocity":177.2,"diff":273.4},{"velocity":183.0,"diff":258.6},{"velocity":187.1,"diff":241.9},{"velocity":191.3,"diff":273.4},{"velocity":195.4,"diff":288.3},{"velocity":199.5,"diff":293.8},{"velocity":203.6,"diff":303.1},{"velocity":207.7,"diff":308.7},{"velocity":211.9,"diff":240.1},{"velocity":216.0,"diff":210.4},{"velocity":220.1,"diff":165.9},{"velocity":224.2,"diff":117.6},{"velocity":228.4,"diff":65.7},{"velocity":232.5,"diff":102.8},{"velocity":236.6,"diff":108.3},{"velocity":240.7,"diff":87.9},{"velocity":244.9,"diff":117.6},{"velocity":249.0,"diff":106.5},{"velocity":253.1,"diff":95.4},{"velocity":257.2,"diff":113.9},{"velocity":261.3,"diff":117.6},{"velocity":265.5,"diff":119.5},{"velocity":269.6,"diff":119.5},{"velocity":273.7,"diff":110.2},{"velocity":277.8,"diff":102.8},{"velocity":282.0,"diff":84.2},{"velocity":286.1,"diff":58.3},{"velocity":290.3,"diff":54.5},{"velocity":294.4,"diff":52.6},{"velocity":298.5,"diff":87.9},{"velocity":302.7,"diff":106.4},{"velocity":306.8,"diff":112.0},{"velocity":310.9,"diff":110.1},{"velocity":314.2,"diff":117.6},{"velocity":317.5,"diff":104.6},{"velocity":320.8,"diff":102.7},{"velocity":324.9,"diff":87.9},{"velocity":329.1,"diff":58.2},{"velocity":334.0,"diff":32.2},{"velocity":337.3,"diff":2.5},{"velocity":341.4,"diff":-1.2},{"velocity":345.6,"diff":-16.0},{"velocity":348.8,"diff":13.7},{"velocity":352.1,"diff":36.0},{"velocity":356.3,"diff":39.7},{"velocity":358.7,"diff":39.7},{"velocity":362.9,"diff":65.6},{"velocity":366.2,"diff":91.6},{"velocity":370.3,"diff":97.2},{"velocity":374.4,"diff":102.7},{"velocity":376.9,"diff":136.1},{"velocity":381.0,"diff":136.1},{"velocity":385.1,"diff":106.4},{"velocity":389.3,"diff":97.2},{"velocity":393.4,"diff":84.2},{"velocity":397.5,"diff":9.9},{"velocity":401.6,"diff":13.7},{"velocity":405.8,"diff":24.8},{"velocity":409.9,"diff":26.7},{"velocity":414.0,"diff":6.3},{"velocity":418.1,"diff":21.1},{"velocity":422.2,"diff":9.9},{"velocity":426.4,"diff":-1.2},{"velocity":430.5,"diff":6.3},{"velocity":434.6,"diff":-16.0},{"velocity":438.7,"diff":-27.1},{"velocity":442.9,"diff":-56.8},{"velocity":447.0,"diff":-60.5},{"velocity":451.1,"diff":-75.4},{"velocity":455.2,"diff":-97.6},{"velocity":459.4,"diff":-108},{"velocity":463.5,"diff":-86.5},{"velocity":467.6,"diff":-79.1},{"velocity":471.7,"diff":-53.1},{"velocity":475.9,"diff":-8.6},{"velocity":480.0,"diff":24.8},{"velocity":484.1,"diff":47.1},{"velocity":487.4,"diff":50.8},{"velocity":490.7,"diff":21.1},{"velocity":494.0,"diff":-8.6},{"velocity":498.1,"diff":21.1},{"velocity":502.2,"diff":39.7},{"velocity":506.4,"diff":58.2},{"velocity":510.5,"diff":71.2},{"velocity":514.6,"diff":50.8},{"velocity":521.2,"diff":-38.3},{"velocity":525.3,"diff":-71.7},{"velocity":529.5,"diff":-68.0},{"velocity":533.6,"diff":-64.2},{"velocity":537.7,"diff":-34.6},{"velocity":541.8,"diff":-38.3},{"velocity":545.9,"diff":-56.8},{"velocity":550.1,"diff":-16.0},{"velocity":554.2,"diff":-4.9},{"velocity":558.3,"diff":13.7},{"velocity":562.4,"diff":36.0},{"velocity":566.6,"diff":17.4},{"velocity":570.7,"diff":28.5},{"velocity":574.8,"diff":32.2},{"velocity":578.9,"diff":28.5},{"velocity":583.1,"diff":21.1},{"velocity":587.2,"diff":2.5},{"velocity":591.3,"diff":0.7},{"velocity":595.4,"diff":-16.0},{"velocity":599.6,"diff":-34.6},{"velocity":603.7,"diff":-30.8},{"velocity":607.8,"diff":-38.3},{"velocity":611.9,"diff":-16.0},{"velocity":616.1,"diff":-16.0},{"velocity":620.2,"diff":-21.6},{"velocity":624.3,"diff":6.3},{"velocity":628.4,"diff":10.0},{"velocity":632.5,"diff":-8.6},{"velocity":636.7,"diff":6.3},{"velocity":640.8,"diff":-12.3},{"velocity":644.9,"diff":-56.8},{"velocity":649.0,"diff":-53.1},{"velocity":653.2,"diff":-53.1},{"velocity":657.3,"diff":-27.1},{"velocity":661.4,"diff":6.3},{"velocity":665.5,"diff":-12.3},{"velocity":669.7,"diff":10.0},{"velocity":673.8,"diff":17.4},{"velocity":677.9,"diff":36.0},{"velocity":682.0,"diff":50.8},{"velocity":684.5,"diff":71.2},{"velocity":688.6,"diff":54.5},{"velocity":691.9,"diff":52.6},{"velocity":695.2,"diff":6.3},{"velocity":698.5,"diff":-8.6},{"velocity":702.6,"diff":-23.4},{"velocity":706.8,"diff":-38.3},{"velocity":710.9,"diff":-53.1},{"velocity":715.0,"diff":-71.7},{"velocity":719.1,"diff":-75.4},{"velocity":723.3,"diff":-79.1},{"velocity":727.4,"diff":-82.8},{"velocity":731.5,"diff":-68.0},{"velocity":735.6,"diff":-45.7},{"velocity":739.7,"diff":-23.4},{"velocity":743.9,"diff":-12.3},{"velocity":748.0,"diff":-8.6},{"velocity":752.1,"diff":-4.9},{"velocity":756.2,"diff":-1.2},{"velocity":760.4,"diff":0.7},{"velocity":764.5,"diff":-16.0},{"velocity":768.6,"diff":-23.4},{"velocity":772.7,"diff":-12.3},{"velocity":776.9,"diff":-8.6},{"velocity":781.0,"diff":-4.9},{"velocity":785.1,"diff":-8.6},{"velocity":789.2,"diff":-16.0},{"velocity":793.4,"diff":-23.4},{"velocity":797.5,"diff":-30.8},{"velocity":801.6,"diff":-45.7},{"velocity":805.7,"diff":-27.1},{"velocity":809.9,"diff":-19.7},{"velocity":814.0,"diff":-27.1},{"velocity":818.1,"diff":-38.3},{"velocity":822.2,"diff":-42.0},{"velocity":826.3,"diff":-55.0},{"velocity":830.5,"diff":-45.7},{"velocity":834.6,"diff":-30.8},{"velocity":838.7,"diff":-16.0},{"velocity":842.8,"diff":-1.2},{"velocity":847.0,"diff":6.3},{"velocity":851.1,"diff":36.0},{"velocity":855.2,"diff":74.9},{"velocity":859.3,"diff":50.8},{"velocity":863.5,"diff":32.2},{"velocity":867.6,"diff":43.4},{"velocity":871.7,"diff":-1.2},{"velocity":875.8,"diff":-30.8},{"velocity":880.0,"diff":-12.3},{"velocity":884.1,"diff":-16.0},{"velocity":888.2,"diff":-1.2},{"velocity":892.3,"diff":2.5},{"velocity":896.4,"diff":13.7},{"velocity":900.6,"diff":21.1},{"velocity":904.7,"diff":13.7},{"velocity":908.8,"diff":-8.6},{"velocity":912.9,"diff":-12.3},{"velocity":917.1,"diff":13.7},{"velocity":921.2,"diff":36.0},{"velocity":925.3,"diff":32.2},{"velocity":929.4,"diff":28.5},{"velocity":933.6,"diff":21.1},{"velocity":937.7,"diff":-12.3},{"velocity":941.8,"diff":-30.8},{"velocity":945.9,"diff":-42.0},{"velocity":950.1,"diff":-43.8},{"velocity":954.2,"diff":-43.8},{"velocity":958.3,"diff":-42.0},{"velocity":962.4,"diff":-19.7},{"velocity":966.6,"diff":-16.0},{"velocity":970.7,"diff":-17.9},{"velocity":974.8,"diff":-45.7},{"velocity":978.9,"diff":-79.1},{"velocity":983.1,"diff":-66.1},{"velocity":987.2,"diff":-58.7},{"velocity":991.3,"diff":-56.8},{"velocity":995.4,"diff":-30.8},{"velocity":999.6,"diff":-42.0},{"velocity":1003.7,"diff":-53.1},{"velocity":1007.8,"diff":-23.4},{"velocity":1011.9,"diff":-1.2},{"velocity":1016.0,"diff":2.5},{"velocity":1020.2,"diff":36.0},{"velocity":1024.3,"diff":61.9},{"velocity":1028.4,"diff":54.5},{"velocity":1030.9,"diff":45.2},{"velocity":1036.7,"diff":48.9},{"velocity":1042.4,"diff":47.1}],
"arrow":[{"from":-163,"to":293,"at":55}],
"note":[{"velocity":83,"diff":10,"label":"450 km s⁻¹"}]
},
"vconcat":[
{"width":843,"height":584,
"resolve":{"axis":{"x":"independent","y":"independent"}},
"layer":[
{"data":{"name":"green"},"mark":{"type":"line","color":"#00ff00","strokeWidth":1.6,"strokeDash":[2,6],"clip":true},
"encoding":{"x":{"field":"wl","type":"quantitative","scale":{"domain":[6540,6585.6],"nice":false,"zero":false},"axis":{"orient":"bottom","values":[6540,6550,6560,6570,6580],"format":"d","tickSize":-10,"labelPadding":16,"title":"Wavelength (Ångstroms)","titlePadding":22}},
"y":{"field":"flux","type":"quantitative","scale":{"domain":[0.5802,1.1094],"nice":false,"zero":false},"axis":{"orient":"left","values":[0.6,0.8,1],"format":"~g","tickSize":-10,"labelAngle":-90,"labelAlign":"center","labelBaseline":"bottom","labelPadding":18,"title":"Normalized flux","titlePadding":11}}}},
{"data":{"name":"red"},"mark":{"type":"line","color":"#ff0000","strokeWidth":1.2,"strokeDash":[7,3,2,3],"clip":true},
"encoding":{"x":{"field":"wl","type":"quantitative","scale":{"domain":[6540,6585.6],"nice":false,"zero":false},"axis":{"orient":"top","values":[6540,6550,6560,6570,6580],"tickSize":-10,"labels":false,"title":null}},
"y":{"field":"flux","type":"quantitative","scale":{"domain":[0.5802,1.1094],"nice":false,"zero":false},"axis":{"orient":"right","values":[0.6,0.8,1],"tickSize":-10,"labels":false,"title":null}}}},
{"data":{"name":"blue"},"mark":{"type":"line","color":"#0000ff","strokeWidth":1.2,"clip":true},
"encoding":{"x":{"field":"wl","type":"quantitative","scale":{"domain":[6540,6585.6],"nice":false,"zero":false},"axis":{"orient":"bottom","values":[6542,6544,6546,6548,6552,6554,6556,6558,6562,6564,6566,6568,6572,6574,6576,6578,6582,6584],"tickSize":-5,"labels":false,"title":null}},
"y":{"field":"flux","type":"quantitative","scale":{"domain":[0.5802,1.1094],"nice":false,"zero":false},"axis":{"orient":"left","values":[0.7,0.9,1.1],"tickSize":-5,"labels":false,"title":null}}}},
{"data":{"name":"blue"},"mark":{"type":"line","color":"#0000ff","strokeOpacity":0,"clip":true},
"encoding":{"x":{"field":"wl","type":"quantitative","scale":{"domain":[6540,6585.6],"nice":false,"zero":false},"axis":{"orient":"top","values":[6542,6544,6546,6548,6552,6554,6556,6558,6562,6564,6566,6568,6572,6574,6576,6578,6582,6584],"tickSize":-5,"labels":false,"title":null}},
"y":{"field":"flux","type":"quantitative","scale":{"domain":[0.5802,1.1094],"nice":false,"zero":false},"axis":{"orient":"right","values":[0.7,0.9,1.1],"tickSize":-5,"labels":false,"title":null}}}}
]},
{"width":843,"height":584,
"resolve":{"axis":{"x":"independent","y":"independent"}},
"layer":[
{"data":{"name":"diff"},"mark":{"type":"line","color":"#000000","strokeWidth":1,"clip":true},
"encoding":{"x":{"field":"velocity","type":"quantitative","scale":{"domain":[-1043,1043],"nice":false,"zero":false},"axis":{"orient":"bottom","values":[-1000,-500,0,500,1000],"format":"d","tickSize":-10,"labelPadding":20,"title":"Velocity (km s⁻¹)","titlePadding":19}},
"y":{"field":"diff","type":"quantitative","scale":{"domain":[-100,550],"nice":false,"zero":false},"axis":{"orient":"left","values":[0,200,400],"format":"d","tickSize":-10,"labelAngle":-90,"labelAlign":"center","labelBaseline":"bottom","labelPadding":18,"title":"Flux difference (counts pixel⁻¹)","titlePadding":11}}}},
{"data":{"name":"arrow"},"mark":{"type":"rule","color":"#0000ff","strokeWidth":1},
"encoding":{"x":{"field":"from","type":"quantitative","scale":{"domain":[-1043,1043],"nice":false,"zero":false},"axis":{"orient":"top","values":[-1000,-500,0,500,1000],"tickSize":-10,"labels":false,"title":null}},"x2":{"field":"to"},
"y":{"field":"at","type":"quantitative","scale":{"domain":[-100,550],"nice":false,"zero":false},"axis":{"orient":"right","values":[0,200,400],"tickSize":-10,"labels":false,"title":null}}}},
{"data":{"name":"arrow"},"mark":{"type":"point","shape":"M 1 -0.34 L 0 0 L 1 0.34","size":1600,"filled":false,"stroke":"#0000ff","strokeWidth":1,"opacity":1},
"encoding":{"x":{"field":"from","type":"quantitative","scale":{"domain":[-1043,1043],"nice":false,"zero":false},"axis":{"orient":"bottom","values":[-900,-800,-700,-600,-400,-300,-200,-100,100,200,300,400,600,700,800,900],"tickSize":-5,"labels":false,"title":null}},
"y":{"field":"at","type":"quantitative","scale":{"domain":[-100,550],"nice":false,"zero":false},"axis":{"orient":"left","values":[100,300,500],"tickSize":-5,"labels":false,"title":null}}}},
{"data":{"name":"arrow"},"mark":{"type":"point","shape":"M -1 -0.34 L 0 0 L -1 0.34","size":1600,"filled":false,"stroke":"#0000ff","strokeWidth":1,"opacity":1},
"encoding":{"x":{"field":"to","type":"quantitative","scale":{"domain":[-1043,1043],"nice":false,"zero":false},"axis":{"orient":"top","values":[-900,-800,-700,-600,-400,-300,-200,-100,100,200,300,400,600,700,800,900],"tickSize":-5,"labels":false,"title":null}},
"y":{"field":"at","type":"quantitative","scale":{"domain":[-100,550],"nice":false,"zero":false},"axis":{"orient":"right","values":[100,300,500],"tickSize":-5,"labels":false,"title":null}}}},
{"data":{"name":"note"},"mark":{"type":"text","font":"DejaVu Serif","fontSize":17,"color":"#0000ff","align":"center","baseline":"alphabetic"},
"encoding":{"x":{"field":"velocity","type":"quantitative","scale":{"domain":[-1043,1043],"nice":false,"zero":false},"axis":null},
"y":{"field":"diff","type":"quantitative","scale":{"domain":[-100,550],"nice":false,"zero":false},"axis":null},"text":{"field":"label"}}}
]}
]
}
